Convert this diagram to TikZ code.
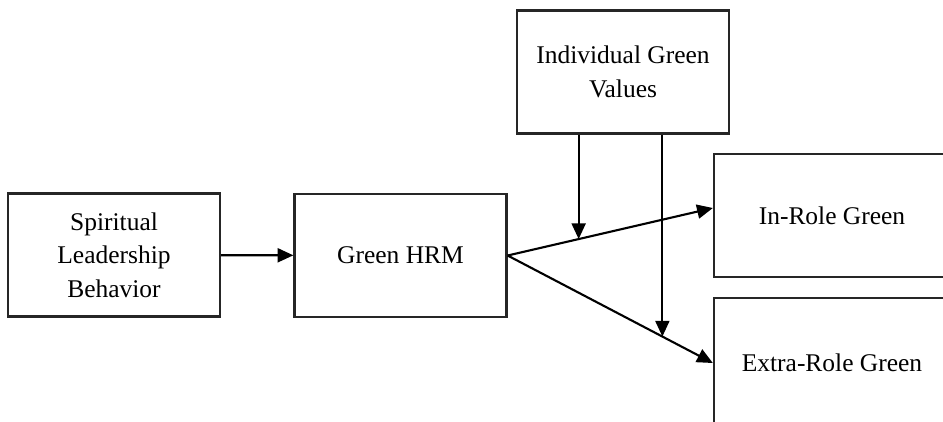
\documentclass[tikz,border=0pt]{standalone}
\usepackage{fontspec}
\setmainfont{Liberation Serif}
\usetikzlibrary{arrows.meta, calc}

\tikzset{
	block/.style={draw=black!85, line width=1.3pt, fill=white, align=center,
		minimum width=4.24cm, minimum height=2.46cm, inner sep=2pt,
		font=\fontsize{14.5}{19}\selectfont},
	arr/.style={-{Triangle[length=9pt,width=8pt]}, line width=1.2pt}
}

\begin{document}
\begin{tikzpicture}
		\clip (0,0) rectangle (18.86,-8.42);
		\node[block] (slb) at (2.28,-5.10) {Spiritual\\Leadership\\Behavior};
		\node[block] (ghrm) at (8.01,-5.11) {Green HRM};
		\node[block] (igv) at (12.46,-1.44) {Individual Green\\Values};
		\node[block, minimum width=5.2cm] (irg) at (16.88,-4.31) {\hspace*{-0.48cm}In-Role Green};
		\node[block, minimum width=5.2cm, minimum height=2.6cm] (erg) at (16.88,-7.26) {\hspace*{-0.48cm}Extra-Role Green};
		\coordinate (irin) at ([yshift=0.15cm]irg.west);
		\draw [arr] (slb) -- (ghrm);
		\draw [arr] (ghrm.east) -- (irin);
		\draw [arr] (ghrm.east) -- (erg.west);
		% moderation arrows
		\coordinate (m1) at ($(ghrm.east)!0.346!(irin)$);
		\coordinate (m2) at ($(ghrm.east)!0.754!(erg.west)$);
		\draw [arr] (m1 |- igv.south) -- (m1);
		\draw [arr] (m2 |- igv.south) -- (m2);
	\end{tikzpicture}
\end{document}
